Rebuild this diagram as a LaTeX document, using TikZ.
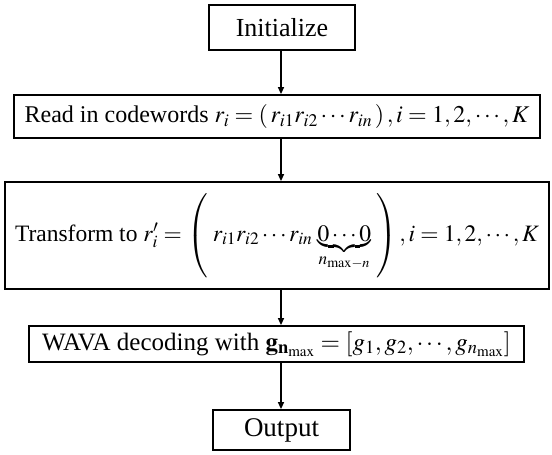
\documentclass[tikz,border=0pt]{standalone}
\usepackage{mathptmx}
\usepackage[no-math]{fontspec}
\setmainfont{Liberation Serif}
\usetikzlibrary{arrows.meta}
\begin{document}
\begin{tikzpicture}[x=1pt,y=1pt,
  stepbox/.style={draw, line width=1.8pt, inner sep=0pt, align=center},
  flow/.style={line width=1.4pt, -{Triangle[length=7pt,width=6pt]}}]
\useasboundingbox (0,0) rectangle (552,-455);
\node[stepbox, minimum width=146pt, minimum height=45pt,
  font=\fontsize{26}{30}\selectfont] (init) at (282,-27.5) {Initialize};
\node[stepbox, minimum width=526pt, minimum height=43pt,
  font=\fontsize{24}{28}\selectfont] (read) at (277,-116.5)
  {Read in codewords $r_i=\left(\,r_{i1}r_{i2}\cdots r_{in}\,\right), i=1,2,\cdots,K$};
\node[stepbox, minimum width=544pt, minimum height=107pt,
  font=\fontsize{23.5}{28}\selectfont] (trans) at (277,-235.5)
  {Transform to $r_i'=\left(\rule[-36pt]{0pt}{78pt}\;r_{i1}r_{i2}\cdots r_{in}\,\underbrace{0\cdots0}_{n_{\mathrm{max}-n}}\;\right), i=1,2,\cdots,K$};
\node[stepbox, minimum width=495pt, minimum height=36pt,
  font=\fontsize{25}{29}\selectfont] (wava) at (276.5,-344)
  {WAVA decoding with $\mathbf{g}_{\mathbf{n}_{\max}}=[g_1,g_2,\cdots,g_{n_{\max}}]$};
\node[stepbox, minimum width=137pt, minimum height=40pt,
  font=\fontsize{27}{31}\selectfont] (out) at (281.5,-430) {Output};
\draw[flow] (init.south -| 281,0) -- (read.north -| 281,0);
\draw[flow] (read.south -| 281,0) -- (trans.north -| 281,0);
\draw[flow] (trans.south -| 281,0) -- (wava.north -| 281,0);
\draw[flow] (wava.south -| 281,0) -- (out.north -| 281,0);
\end{tikzpicture}
\end{document}
